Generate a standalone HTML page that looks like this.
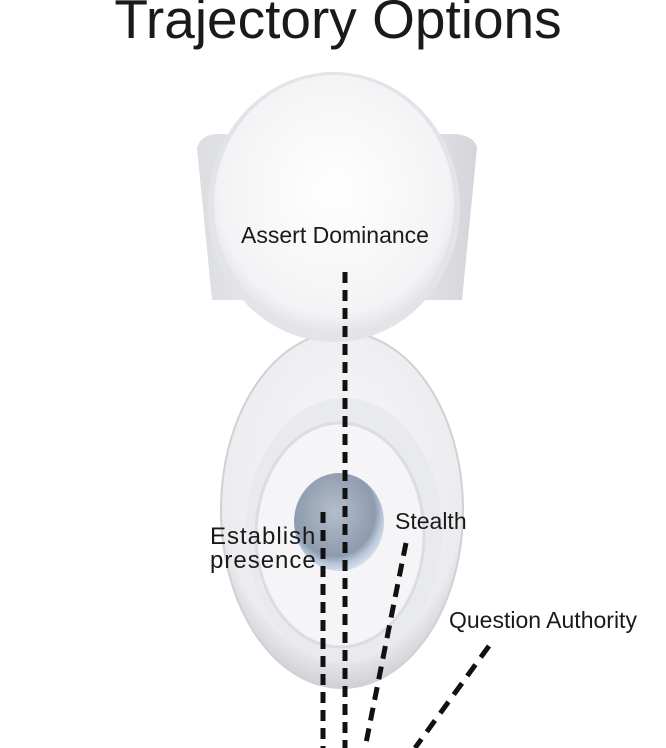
<!DOCTYPE html>
<html><head><meta charset="utf-8"><style>
html,body{margin:0;padding:0;background:#fff;}
svg{display:block}
text{font-family:"Liberation Sans",sans-serif;fill:#1a1a1a}
</style></head><body>
<svg width="666" height="748" viewBox="0 0 666 748" xmlns="http://www.w3.org/2000/svg">
<defs>
<radialGradient id="g1" cx="50%" cy="45%" r="60%"><stop offset="0" stop-color="#ffffff"/><stop offset="0.8" stop-color="#f3f3f5"/><stop offset="1" stop-color="#d8d9dd"/></radialGradient>
<radialGradient id="g2" cx="50%" cy="40%" r="60%"><stop offset="0" stop-color="#f7f7f8"/><stop offset="0.85" stop-color="#ececef"/><stop offset="1" stop-color="#cfd0d5"/></radialGradient>
<radialGradient id="w" cx="45%" cy="40%" r="60%"><stop offset="0" stop-color="#b4bdca"/><stop offset="0.75" stop-color="#8e9bae"/><stop offset="0.88" stop-color="#b8c6da"/><stop offset="1" stop-color="#d3dcea"/></radialGradient>
<linearGradient id="tank" x1="0" y1="0" x2="1" y2="0"><stop offset="0" stop-color="#dcdde1"/><stop offset="0.5" stop-color="#f4f4f6"/><stop offset="1" stop-color="#d4d5da"/></linearGradient>
</defs>
<rect width="666" height="748" fill="#fff"/>
<text x="338" y="38" font-size="55" text-anchor="middle">Trajectory Options</text>
<path d="M197 148 Q200 136 215 134 L455 134 Q475 136 477 148 L462 300 L212 300 Z" fill="url(#tank)"/>
<ellipse cx="342" cy="510" rx="121" ry="178" fill="url(#g2)"/>
<ellipse cx="342" cy="510" rx="121" ry="178" fill="none" stroke="#d0d1d6" stroke-width="2"/>
<ellipse cx="344" cy="530" rx="98" ry="132" fill="#e9eaed"/>
<ellipse cx="340" cy="535" rx="84" ry="112" fill="#f5f5f7" stroke="#dcdde2" stroke-width="3"/>
<ellipse cx="339" cy="522" rx="45" ry="49" fill="url(#w)"/>
<ellipse cx="334" cy="207" rx="126" ry="135" fill="#e3e4e8"/>
<ellipse cx="334" cy="204" rx="120" ry="129" fill="url(#g1)"/>
<text x="335" y="243" font-size="23" text-anchor="middle">Assert Dominance</text>
<text x="210" y="544" font-size="24" letter-spacing="1">Establish</text>
<text x="210" y="568" font-size="24" letter-spacing="1">presence</text>
<text x="395" y="529" font-size="23">Stealth</text>
<text x="449" y="628" font-size="23">Question Authority</text>
<g stroke="#111" stroke-width="5" fill="none">
<path d="M345 272 L345 748" stroke-dasharray="11 7"/>
<path d="M323 512 L323 748" stroke-dasharray="11 7"/>
<path d="M406 543 L365 748" stroke-dasharray="13 8"/>
<path d="M489 646 L415 748" stroke-dasharray="14 9"/>
</g>
</svg>
</body></html>
